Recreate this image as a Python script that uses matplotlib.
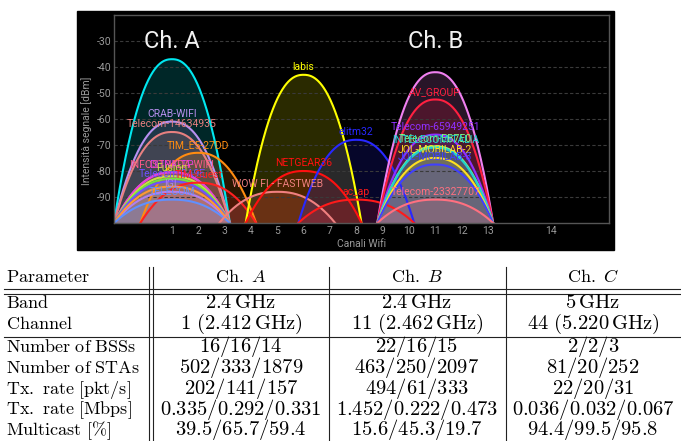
import numpy as np
import matplotlib
matplotlib.use('Agg')
import matplotlib.pyplot as plt
from matplotlib.patches import Rectangle

plt.rcParams['mathtext.fontset'] = 'cm'
plt.rcParams['axes.unicode_minus'] = False

net_names = ['', 'CRAB-WIFI', 'Telecom-14634935', 'TIM_E5-27DD', 'INFOSTRADA-WIFI',
             'DLINK-TP', 'Fusion', '', 'Telecom-2A9E', 'TIM-Guest', 'IGL', '', 'TELECOM',
             'labis', 'WOW FI - FASTWEB', 'NETGEAR36', 'elitm32', 'ac_ap',
             '', 'AV_GROUP', 'Telecom-65949251', 'Telecom-EB7E0', 'INTELECOMITALIA',
             'JOL-MOBILAB-2', 'JOL-MOBILAB-3', 'Telecom-23327707']
net_channels = [1, 1, 1, 2, 1,
                1, 1, 1, 1, 2, 1, 1, 1,
                6, 5, 6, 8, 8,
                11, 11, 11, 11, 11,
                11, 11, 11]
net_levels = [-37, -61, -65, -73, -80.5,
              -80.5, -82, -83, -84, -84.5, -88, -86, -91,
              -43, -88, -80, -68, -91,
              -42, -52.5, -66, -70.5, -71,
              -75, -77.5, -91]
net_colors = ['#00e8f0', '#b890f0', '#e88080', '#ff8c10', '#ff5a8a',
              '#e040e0', '#c8e040', '#70e040', '#7050ff', '#ff2020', '#b080f0', '#ff9933', '#6090ff',
              '#ffff00', '#f08080', '#ff1010', '#2828ff', '#ff1a1a',
              '#f080f0', '#ff2040', '#9030ff', '#80ff80', '#20d0d0',
              '#ffe020', '#4040ff', '#ff7080']

channels = list(range(1, 15))

# --- tabella ---
row_params = ['Band', 'Channel', 'Number of BSSs', 'Number of STAs',
              'Tx. rate [pkt/s]', 'Tx. rate [Mbps]', 'Multicast [%]']
col_names = ['A', 'B', 'C']
ch_a = ['2.4 GHz', '1 (2.412 GHz)', '16/16/14', '502/333/1879', '202/141/157',
        '0.335/0.292/0.331', '39.5/65.7/59.4']
ch_b = ['2.4 GHz', '11 (2.462 GHz)', '22/16/15', '463/250/2097', '494/61/333',
        '1.452/0.222/0.473', '15.6/45.3/19.7']
ch_c = ['5 GHz', '44 (5.220 GHz)', '2/2/3', '81/20/252', '22/20/31',
        '0.036/0.032/0.067', '94.4/99.5/95.8']


def ch_freq(ch):
    return 2484 if ch == 14 else 2407 + 5 * ch


def rm(s):
    s = s.replace('%', r'\%').replace(' GHz', r'\,GHz').replace(' ', r'\ ')
    return r'$\mathrm{' + s + '}$'


def cell(s):
    if 'GHz' in s:
        return rm(s)
    return '$' + s + '$'


fig = plt.figure(figsize=(6.81, 4.41), dpi=100)
W, H = 681, 441

# asse "pagina" in pixel per sfondo nero e tabella
ax_t = fig.add_axes([0, 0, 1, 1], zorder=0)
ax_t.set_xlim(0, W)
ax_t.set_ylim(H, 0)
ax_t.axis('off')
ax_t.add_patch(Rectangle((77, 11), 537, 239, color='black'))

# --- grafico wifi ---
ax = fig.add_axes([114 / W, 1 - 223 / H, 495 / W, 208 / H], zorder=1)
ax.set_facecolor('black')
ax.set_xlim(2401, 2495)
ax.set_ylim(-100, -20)

for name, ch, lvl, col in zip(net_names, net_channels, net_levels, net_colors):
    f = ch_freq(ch)
    x = np.linspace(f - 11, f + 11, 200)
    u = (x - f) / 11
    y = -100 + (lvl + 100) * (1 - np.abs(u) ** 2.3)
    ax.fill_between(x, -100, y, color=col, alpha=0.17, lw=0)
    ax.plot(x, y, color=col, lw=1.5)
    if name:
        ax.text(f, lvl + 3, name, color=col, ha='center', va='center',
                fontsize=7.5, family='Roboto')

ax.text(ch_freq(1), -30, 'Ch. A', color='#f2f2f2', fontsize=17, family='Roboto',
        ha='center', va='center')
ax.text(ch_freq(11), -30, 'Ch. B', color='#f2f2f2', fontsize=17, family='Roboto',
        ha='center', va='center')

ax.set_yticks(range(-90, -29, 10))
ax.set_xticks([ch_freq(c) for c in channels])
ax.set_xticklabels([str(c) for c in channels])
ax.yaxis.grid(True, color='#3a3a3a', lw=0.8, ls=(0, (3, 2)))
ax.tick_params(colors='#9a9a9a', length=0, labelsize=7.5, pad=2)
for lab in ax.get_xticklabels() + ax.get_yticklabels():
    lab.set_family('Roboto')
for sp in ax.spines.values():
    sp.set_color('#555555')
    sp.set_linewidth(1)

ax_t.text(87, 131, 'Intensità segnale [dBm]', rotation=90, color='#9a9a9a',
          fontsize=7.5, family='Roboto', ha='center', va='center')
ax_t.text(362, 244, 'Canali Wifi', color='#9a9a9a', fontsize=7.5, family='Roboto',
          ha='center', va='center')

# --- tabella ---
lc = '#222222'
for xv in [149, 153, 329, 506]:
    ax_t.plot([xv, xv], [267, H], color=lc, lw=0.8)
for yv in [288.5, 293.5, 336.5]:
    ax_t.plot([4, W], [yv, yv], color=lc, lw=0.8)

col_x = [241, 417, 593]
fs_txt = 13
fs_val = 14.8
ax_t.text(6, 282, rm('Parameter'), fontsize=fs_txt, va='baseline', ha='left')
for cx, cn in zip(col_x, col_names):
    ax_t.text(cx, 282, r'$\mathrm{Ch.}\ ' + cn + '$', fontsize=fs_txt,
              va='baseline', ha='center')

row_y = [308.5, 329, 352, 373, 394, 414.5, 435]
for i, p in enumerate(row_params):
    ax_t.text(6, row_y[i], rm(p), fontsize=fs_txt, va='baseline', ha='left')
    for cx, vals in zip(col_x, [ch_a, ch_b, ch_c]):
        ax_t.text(cx, row_y[i], cell(vals[i]), fontsize=fs_val, va='baseline', ha='center')

fig.savefig('out.png', dpi=100, facecolor='white')
